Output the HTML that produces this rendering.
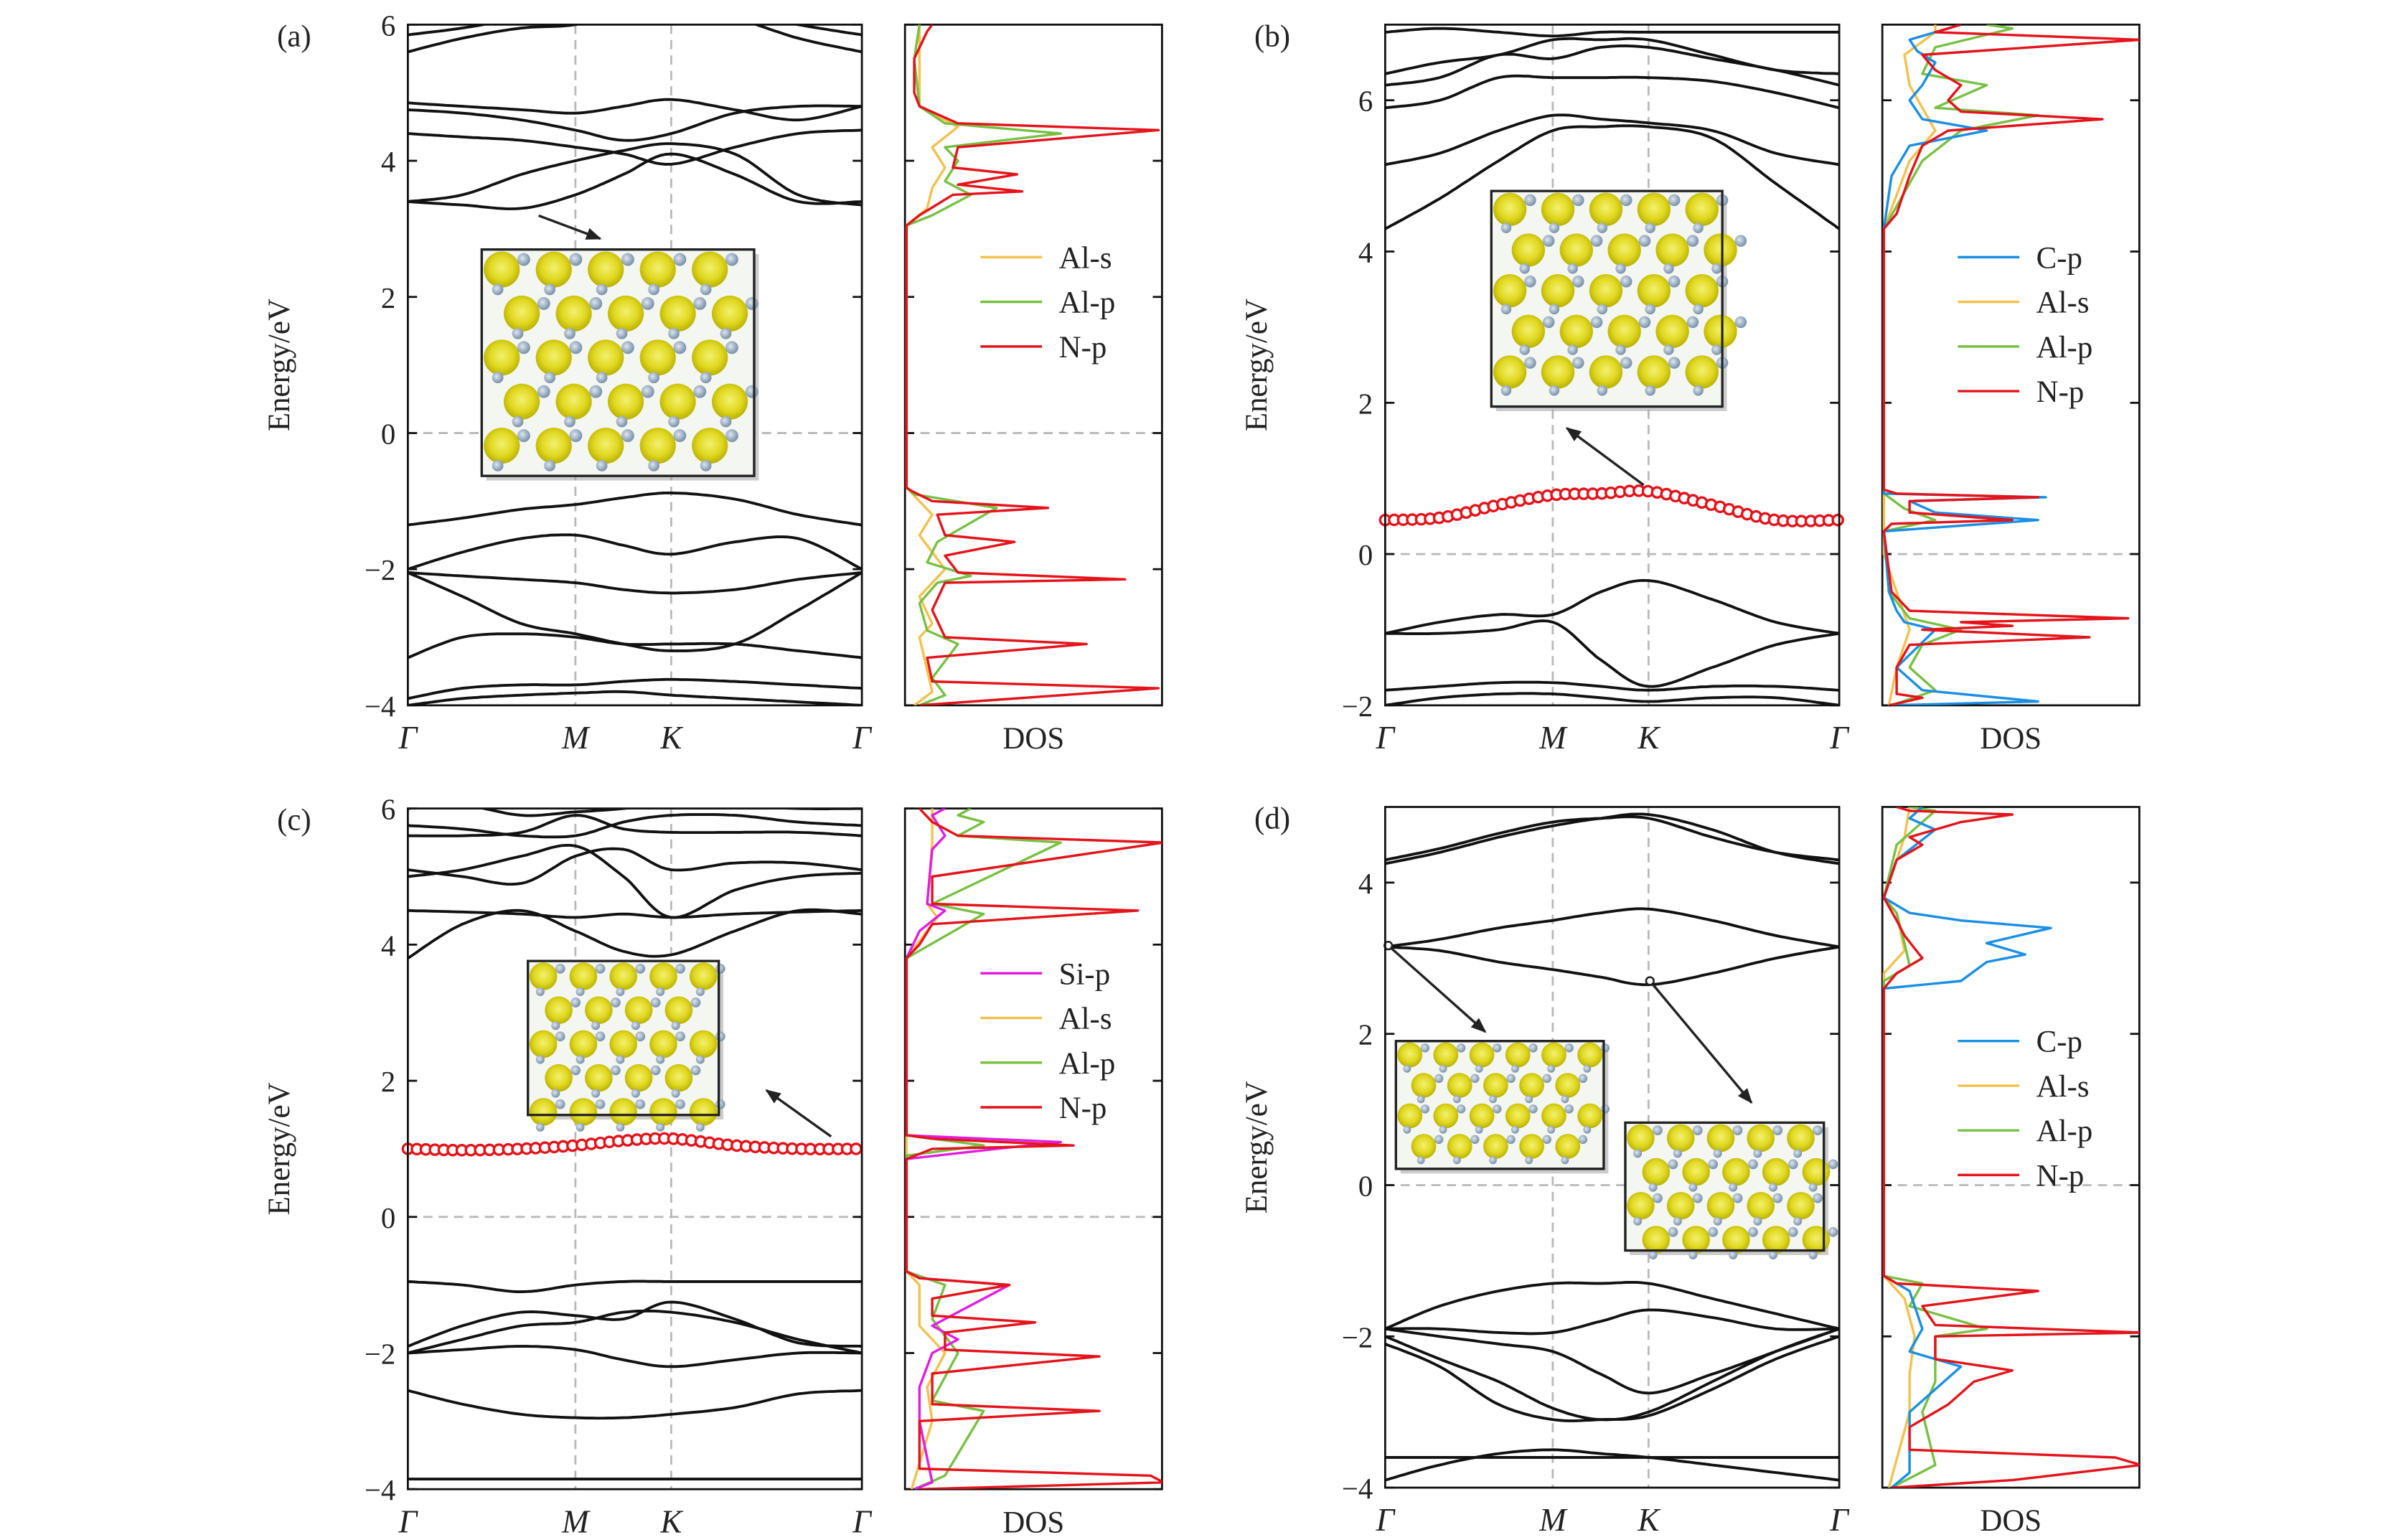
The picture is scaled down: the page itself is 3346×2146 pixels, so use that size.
<!DOCTYPE html>
<html><head><meta charset="utf-8"><style>
html,body{margin:0;padding:0;background:#fff}
svg{display:block}
text{font-family:"Liberation Serif",serif;fill:#222}
</style></head><body>
<svg id="fig" xmlns="http://www.w3.org/2000/svg" width="3346" height="2146" viewBox="0 0 1560 1000" preserveAspectRatio="none" font-family="Liberation Serif, serif">
<defs>
<marker id="ah" markerWidth="10" markerHeight="8" refX="9" refY="4" orient="auto" markerUnits="userSpaceOnUse"><path d="M0,0 L10,4 L0,8 Z" fill="#222"/></marker>
<radialGradient id="yb" cx="50%" cy="45%" r="55%"><stop offset="0" stop-color="#f4f070"/><stop offset="0.6" stop-color="#e0d820"/><stop offset="1" stop-color="#b8b000"/></radialGradient>
<radialGradient id="at" cx="40%" cy="40%" r="60%"><stop offset="0" stop-color="#dde6f0"/><stop offset="1" stop-color="#7890a8"/></radialGradient>
</defs>
</svg>
<script>
// ---------- data ----------
const kPos = [0,0.12,0.25,0.369,0.475,0.58,0.72,0.86,1];
const kLabels = ["Γ","M","K","Γ"];
const kLabelPos = [0,0.369,0.58,1];

const bandsA = [
 [-1.35,-1.25,-1.12,-1.05,-0.95,-0.88,-0.97,-1.2,-1.35],
 [-2.0,-1.75,-1.55,-1.5,-1.65,-1.78,-1.6,-1.55,-2.0],
 [-2.05,-2.1,-2.15,-2.2,-2.3,-2.35,-2.3,-2.15,-2.05],
 [-2.05,-2.4,-2.8,-2.95,-3.1,-3.2,-3.1,-2.6,-2.05],
 [-3.3,-3.0,-2.95,-3.0,-3.1,-3.1,-3.1,-3.2,-3.3],
 [-3.9,-3.75,-3.7,-3.7,-3.65,-3.62,-3.65,-3.7,-3.75],
 [-4.0,-3.9,-3.85,-3.82,-3.8,-3.85,-3.9,-3.95,-4.0],
 [3.4,3.35,3.3,3.5,3.8,4.1,3.8,3.4,3.4],
 [3.4,3.5,3.8,4.0,4.15,4.25,4.1,3.5,3.35],
 [4.4,4.35,4.3,4.2,4.1,3.95,4.2,4.4,4.45],
 [4.75,4.7,4.6,4.45,4.3,4.4,4.7,4.8,4.8],
 [4.85,4.8,4.75,4.7,4.8,4.9,4.75,4.6,4.8],
 [5.6,5.8,5.95,6.0,6.2,6.3,6.1,5.8,5.6],
 [5.85,5.95,6.1,6.2,6.3,6.3,6.2,6.0,5.85]];
const defectA = [];

const bandsB = [
 [-1.05,-0.9,-0.8,-0.8,-0.5,-0.35,-0.6,-0.9,-1.05],
 [-1.05,-1.05,-1.0,-0.9,-1.4,-1.75,-1.5,-1.2,-1.05],
 [-1.8,-1.75,-1.7,-1.7,-1.75,-1.8,-1.75,-1.75,-1.8],
 [-2.0,-1.9,-1.85,-1.85,-1.9,-1.95,-1.9,-1.9,-2.0],
 [4.3,4.7,5.2,5.6,5.65,5.65,5.5,4.9,4.3],
 [5.15,5.3,5.6,5.8,5.75,5.7,5.6,5.3,5.15],
 [5.9,6.0,6.3,6.3,6.3,6.3,6.25,6.1,5.9],
 [6.2,6.3,6.6,6.55,6.7,6.7,6.55,6.4,6.2],
 [6.35,6.5,6.6,6.8,6.8,6.8,6.6,6.4,6.35],
 [6.9,6.95,6.9,6.85,6.9,6.9,6.9,6.9,6.9]];
const defectB = [0.45,0.48,0.65,0.78,0.8,0.83,0.65,0.45,0.45];

const bandsC = [
 [-0.95,-1.0,-1.1,-1.0,-0.95,-0.95,-0.95,-0.95,-0.95],
 [-1.9,-1.6,-1.4,-1.45,-1.5,-1.25,-1.5,-1.85,-1.9],
 [-2.0,-1.8,-1.6,-1.55,-1.4,-1.4,-1.55,-1.8,-2.0],
 [-2.0,-1.95,-1.9,-1.95,-2.1,-2.2,-2.1,-2.0,-2.0],
 [-2.55,-2.75,-2.9,-2.95,-2.95,-2.9,-2.8,-2.6,-2.55],
 [-3.85,-3.85,-3.85,-3.85,-3.85,-3.85,-3.85,-3.85,-3.85],
 [3.8,4.3,4.5,4.2,3.9,3.85,4.2,4.5,4.45],
 [4.5,4.48,4.45,4.4,4.45,4.4,4.45,4.48,4.5],
 [5.0,5.1,5.3,5.45,5.0,4.4,4.8,5.0,5.05],
 [5.1,5.0,4.9,5.3,5.4,5.1,5.2,5.2,5.1],
 [5.6,5.6,5.65,5.9,5.7,5.65,5.65,5.65,5.6],
 [5.75,5.7,5.6,5.6,5.8,5.9,5.9,5.8,5.75],
 [6.0,6.05,5.9,5.95,6.0,6.1,6.05,6.0,6.0]];
const defectC = [1.0,0.98,1.0,1.05,1.12,1.15,1.05,1.0,1.0];

const bandsD = [
 [-1.9,-1.6,-1.4,-1.3,-1.3,-1.3,-1.5,-1.7,-1.9],
 [-1.9,-1.9,-1.95,-1.95,-1.8,-1.65,-1.75,-1.9,-1.9],
 [-1.9,-2.0,-2.1,-2.2,-2.5,-2.75,-2.5,-2.2,-1.9],
 [-2.0,-2.3,-2.6,-2.95,-3.1,-3.0,-2.6,-2.2,-1.9],
 [-2.1,-2.4,-2.9,-3.1,-3.1,-3.05,-2.7,-2.3,-2.0],
 [-3.6,-3.6,-3.6,-3.6,-3.6,-3.6,-3.6,-3.6,-3.6],
 [-3.9,-3.7,-3.55,-3.5,-3.55,-3.6,-3.7,-3.8,-3.9],
 [3.15,3.1,2.95,2.85,2.75,2.65,2.8,3.0,3.15],
 [3.15,3.25,3.4,3.5,3.6,3.65,3.5,3.3,3.15],
 [4.25,4.4,4.6,4.75,4.85,4.9,4.7,4.4,4.25],
 [4.3,4.45,4.65,4.8,4.85,4.85,4.6,4.4,4.3]];
const defectD = [];

const dosA_Als = [[-4,0.3],[-3.8,1],[-3,0.5],[-2.8,1],[-2.4,0.5],[-2,1.5],[-1.5,0.5],[-1.2,1],[-0.8,0],[3.05,0],[3.3,0.8],[3.6,1],[3.9,1.5],[4.2,1],[4.5,2],[4.8,0.5],[6,0.5]];
const dosA_Alp = [[-4,0.5],[-3.85,1.5],[-3.6,1],[-3.1,2],[-2.9,0.8],[-2.5,0.5],[-2.2,1.2],[-2.1,2.5],[-1.9,0.8],[-1.6,1.2],[-1.1,3.5],[-0.9,0.3],[-0.8,0],[3.05,0],[3.2,1],[3.5,2.5],[3.7,1.5],[4.0,2],[4.2,1.5],[4.4,6],[4.55,1.5],[4.8,0.5],[5.5,0.3],[6,0.5]];
const dosA_Np = [[-4,0.5],[-3.75,9.8],[-3.65,1],[-3.3,0.8],[-3.1,7],[-3.0,1.5],[-2.6,1],[-2.2,1.5],[-2.15,8.5],[-2.05,2],[-1.8,1.5],[-1.6,4.2],[-1.5,1.5],[-1.2,1.2],[-1.1,5.5],[-1.0,1],[-0.85,0.2],[-0.8,0],[3.05,0],[3.2,0.5],[3.5,1.8],[3.55,4.5],[3.65,2],[3.8,4.3],[3.9,1.8],[4.2,2],[4.45,9.8],[4.55,2],[4.8,0.5],[5.0,0.3],[5.5,0.3],[5.9,0.8],[6,1]];

const dosB_Als = [[-2,0.2],[-1.5,0.5],[-1,1],[0,0],[4.3,0],[5.2,1],[5.6,2],[5.9,1.5],[6.2,1],[6.6,0.8],[6.9,2],[7,2]];
const dosB_Alp = [[-2,0.3],[-1.8,2],[-1.5,1],[-1.2,1.5],[-1.0,3],[-0.85,1],[-0.5,0.2],[0.3,0],[0.45,2],[0.6,0.8],[0.8,0],[4.3,0],[5.2,1.5],[5.6,3],[5.8,6],[5.9,2],[6.2,4],[6.35,1.5],[6.7,2],[6.95,5],[7,4]];
const dosB_Cp = [[-2,0.3],[-1.95,6],[-1.8,1.5],[-1.5,0.5],[-1.0,2],[-0.9,0.8],[-0.75,0.5],[-0.5,0.2],[0.3,0],[0.45,6],[0.55,2],[0.7,1],[0.75,6.3],[0.8,0],[4.3,0],[5.0,0.3],[5.4,1],[5.6,4],[5.75,1.5],[6.0,1],[6.2,1.5],[6.5,2],[6.65,1.3],[6.8,1],[7,3]];
const dosB_Np = [[-2,0.2],[-1.9,1.5],[-1.85,0.5],[-1.5,0.5],[-1.2,1],[-1.1,8],[-1.0,1.5],[-0.95,5],[-0.9,3],[-0.85,9.5],[-0.75,1],[-0.5,0.3],[0.3,0],[0.4,0.3],[0.45,5],[0.55,1],[0.7,1],[0.75,6],[0.8,0.5],[0.85,0],[4.3,0],[4.5,0.5],[5.0,1],[5.4,1.5],[5.6,2.5],[5.75,8.5],[5.85,3],[6.0,2.5],[6.2,3],[6.4,2],[6.6,1.5],[6.8,10],[6.9,2],[7,3]];

const dosC_Als = [[-4,0.2],[-3,1],[-2.5,0.8],[-2,1.5],[-1.6,0.5],[-1,0.5],[-0.8,0],[3.8,0],[4.4,1.2],[4.6,0.8],[5.5,1],[6,1]];
const dosC_Alp = [[-4,0.3],[-3.8,1.5],[-2.85,3],[-2.7,1],[-2.0,2],[-1.5,1],[-1,1.5],[-0.8,0],[0.9,0],[1.05,3],[1.2,0],[3.8,0],[4.45,3],[4.6,1],[5.5,6],[5.6,2],[5.8,3],[5.9,2],[6,2.5]];
const dosC_Sip = [[-4,0.3],[-3.9,1],[-3,0.5],[-2.5,0.5],[-2,1],[-1.8,2],[-1.6,1],[-1.0,4],[-0.9,0.5],[-0.8,0],[0.85,0],[1.0,3.5],[1.1,6],[1.2,0],[3.8,0],[4.2,0.5],[4.5,1.5],[4.6,0.8],[5.4,1],[5.6,1.5],[5.9,1],[6,1.5]];
const dosC_Np = [[-4,0.5],[-3.9,10],[-3.8,9.5],[-3.7,0.5],[-3.0,0.5],[-2.85,7.5],[-2.75,1],[-2.3,1],[-2.05,7.5],[-1.95,1.5],[-1.7,1.5],[-1.55,5],[-1.45,1],[-1.2,1],[-1.0,4],[-0.9,0.5],[-0.8,0],[0.85,0],[1.0,1],[1.05,6.5],[1.15,1],[1.2,0],[3.8,0],[4.0,0.5],[4.3,1],[4.5,9],[4.6,1],[5.0,1],[5.5,10],[5.6,2],[5.8,1],[6,0.5]];

const dosD_Als = [[-4,0.2],[-3,1],[-2.5,1],[-2,1.2],[-1.5,0.8],[-1.2,0],[2.8,0],[3.1,0.8],[3.6,0.5],[3.8,0],[4.6,0.8],[5,1]];
const dosD_Alp = [[-4,0.3],[-3.7,2],[-3,1.5],[-2.6,2],[-2,2],[-1.9,4],[-1.6,1],[-1.3,1.5],[-1.2,0],[2.7,0],[2.9,1],[3.2,0.8],[3.6,0.5],[3.8,0],[4.5,0.5],[4.8,1.5],[4.95,2],[5,1]];
const dosD_Cp = [[-4,0.3],[-3.8,1],[-3,1],[-2.4,3],[-2.2,1],[-1.9,1.5],[-1.4,1],[-1.2,0],[2.6,0],[2.7,3],[2.95,4],[3.05,5.5],[3.2,4],[3.4,6.5],[3.5,3],[3.6,1],[3.8,0],[4.3,0.5],[4.7,2],[4.85,1],[5,1.5]];
const dosD_Np = [[-4,0.3],[-3.9,5],[-3.7,10],[-3.6,9],[-3.5,1],[-3.2,1],[-2.9,2.5],[-2.6,3.5],[-2.45,5],[-2.3,2],[-2.0,2],[-1.95,10],[-1.85,2],[-1.6,1.5],[-1.4,6],[-1.3,0.5],[-1.2,0],[2.6,0],[2.8,0.5],[3.0,1.5],[3.3,0.8],[3.5,0.5],[3.8,0],[4.3,0.5],[4.5,1.5],[4.6,1],[4.8,3],[4.9,5],[4.95,1],[5,0.5]];

const yTicksA = [-4,-2,0,2,4,6];
const yTicksB = [-2,0,2,4,6];
const yTicksC = [-4,-2,0,2,4,6];
const yTicksD = [-4,-2,0,2,4];

const COL = {"Al-s":"#f2c14e","Al-p":"#78c043","N-p":"#e3141b","C-p":"#1a8fe3","Si-p":"#e01ee0"};

const svg = document.getElementById('fig');
const NS = 'http://www.w3.org/2000/svg';
function mk(tag, attrs, parent){
  const e = document.createElementNS(NS, tag);
  for (const k in attrs) e.setAttribute(k, attrs[k]);
  (parent||svg).appendChild(e);
  return e;
}
function cr(pts, perUnit){
  const out=[];
  for(let i=0;i<pts.length-1;i++){
    const p0=pts[Math.max(0,i-1)],p1=pts[i],p2=pts[i+1],p3=pts[Math.min(pts.length-1,i+2)];
    const d=Math.hypot(p2[0]-p1[0],p2[1]-p1[1]);
    const n=Math.max(2,Math.round(d*perUnit));
    for(let j=0;j<n;j++){
      const t=j/n,t2=t*t,t3=t2*t;
      const f=(a,b,c,e)=>0.5*((2*b)+(-a+c)*t+(2*a-5*b+4*c-e)*t2+(-a+3*b-3*c+e)*t3);
      out.push([f(p0[0],p1[0],p2[0],p3[0]),f(p0[1],p1[1],p2[1],p3[1])]);
    }
  }
  out.push(pts[pts.length-1]);
  return out;
}
let clipId=0;

function panel(cfg){
  const {letter,bx,by,bw,bh,eMax,eMin,dx,dw,bands,defect,yTicks,dos,insets,arrows}=cfg;
  const g = mk('g',{});
  
  
  const yS = e => by + (eMax-e)/(eMax-eMin)*bh;
  const xS = k => bx + k*bw;
  const cid='c'+(clipId++), cid2='c'+(clipId++);
  const cp=mk('clipPath',{id:cid},g); mk('rect',{x:bx,y:by,width:bw,height:bh},cp);
  const cp2=mk('clipPath',{id:cid2},g); mk('rect',{x:dx,y:by,width:dw,height:bh},cp2);

  const lab=mk('text',{x:bx-85,y:by+14,'font-size':20},g); lab.textContent='('+letter+')';
  
  

  const guides=mk('g',{stroke:'#b8b8b8','stroke-width':1.3,'stroke-dasharray':'6,4'},g);
  
  
  [kLabelPos[1],kLabelPos[2]].forEach(k=>mk('line',{x1:xS(k),x2:xS(k),y1:by,y2:by+bh},guides));
  mk('line',{x1:bx,x2:bx+bw,y1:yS(0),y2:yS(0)},guides);
  mk('line',{x1:dx,x2:dx+dw,y1:yS(0),y2:yS(0)},guides);

  const bg=mk('g',{'clip-path':'url(#'+cid+')',fill:'none',stroke:'#111','stroke-width':1.8},g);
  
  
  bands.forEach((b,i)=>{
    const pts=cr(b.map((e,j)=>[xS(kPos[j]),yS(e)]),0.3);
    const p=mk('path',{d:'M'+pts.map(q=>q[0].toFixed(1)+','+q[1].toFixed(1)).join('L')},bg);
    
    
  });
  if(defect.length){
    const dg=mk('g',{fill:'#fff',stroke:'#e3141b','stroke-width':1.6},g);
    
    
    const pts=cr(defect.map((e,j)=>[xS(kPos[j]),yS(e)]),3);
    let acc=0,last=null;const step=5.8;
    pts.forEach(q=>{
      if(!last){mk('circle',{cx:q[0],cy:q[1],r:3.3},dg);last=q;return;}
      acc+=Math.hypot(q[0]-last[0],q[1]-last[1]);last=q;
      if(acc>=step){acc=0;mk('circle',{cx:q[0],cy:q[1],r:3.3},dg);}
    });
  }

  insets.forEach((r,ii)=>{
    const ig=mk('g',{},g);
    
    
    mk('rect',{x:r[0]+3,y:r[1]+3,width:r[2],height:r[3],fill:'#999',opacity:0.5},ig);
    mk('rect',{x:r[0],y:r[1],width:r[2],height:r[3],fill:'#f4f6f2',stroke:'#222','stroke-width':1.5},ig);
    const s=r[4];
    for(let yy=r[1]+s*0.5;yy<r[1]+r[3];yy+=s*1.1){
      for(let xx=r[0]+s*0.5+((Math.round((yy-r[1])/(s*1.1))%2)*s*0.5);xx<r[0]+r[2];xx+=s*1.3){
        mk('circle',{cx:xx,cy:yy,r:s*0.45,fill:'url(#yb)'},ig);
        mk('circle',{cx:xx+s*0.55,cy:yy-s*0.25,r:s*0.16,fill:'url(#at)'},ig);
        mk('circle',{cx:xx-s*0.1,cy:yy+s*0.5,r:s*0.14,fill:'url(#at)'},ig);
      }
    }
    mk('rect',{x:r[0],y:r[1],width:r[2],height:r[3],fill:'none',stroke:'#222','stroke-width':1.5},ig);
  });
  arrows.forEach((a,ai)=>{
    const l=mk('line',{x1:a[0],y1:a[1],x2:a[2],y2:a[3],stroke:'#222','stroke-width':1.6,'marker-end':'url(#ah)'},g);
    
    
    if(a[4]) mk('circle',{cx:a[0],cy:a[1],r:2.5,fill:'#fff',stroke:'#222','stroke-width':1.2},g);
  });

  const axg=mk('g',{stroke:'#111','stroke-width':1.3,fill:'none'},g);
  
  
  mk('rect',{x:bx,y:by,width:bw,height:bh},axg);
  mk('rect',{x:dx,y:by,width:dw,height:bh},axg);
  yTicks.forEach(t=>{
    const y=yS(t);
    mk('line',{x1:bx,x2:bx+6,y1:y,y2:y},axg);
    mk('line',{x1:bx+bw-6,x2:bx+bw,y1:y,y2:y},axg);
    mk('line',{x1:dx,x2:dx+6,y1:y,y2:y},axg);
    mk('line',{x1:dx+dw-6,x2:dx+dw,y1:y,y2:y},axg);
    const tx=mk('text',{x:bx-8,y:y+7,'font-size':19,'text-anchor':'end'},g);
    tx.textContent=(t<0?'\u2212'+(-t):String(t));
    
    
  });
  kLabelPos.forEach((k,i)=>{
    const tx=mk('text',{x:xS(k),y:by+bh+28,'font-size':21,'font-style':'italic','text-anchor':'middle'},g);
    tx.textContent=kLabels[i];
    
    
  });
  const yl=mk('text',{transform:'translate('+(bx-77)+','+(by+bh/2)+') rotate(-90)','font-size':20,'text-anchor':'middle'},g);
  yl.textContent='Energy/eV';
  
  
  const dl=mk('text',{x:dx+dw/2,y:by+bh+28,'font-size':20,'text-anchor':'middle'},g);
  dl.textContent='DOS';
  
  

  const dg=mk('g',{'clip-path':'url(#'+cid2+')',fill:'none','stroke-width':1.6},g);
  
  
  dos.forEach(([name,arr])=>{
    const pts=arr.map(p=>[dx+1+p[1]/10*dw,yS(p[0])]);
    const p=mk('path',{d:'M'+pts.map(q=>q[0].toFixed(1)+','+q[1].toFixed(1)).join('L'),stroke:COL[name],'stroke-linejoin':'round'},dg);
    
    
  });
  const lg=mk('g',{},g);
  
  
  cfg.legend.forEach((name,i)=>{
    const y=cfg.legY+i*29;
    mk('line',{x1:dx+49,x2:dx+89,y1:y,y2:y,stroke:COL[name],'stroke-width':1.6},lg);
    const t=mk('text',{x:dx+100,y:y+7,'font-size':20},lg);
    t.textContent=name;
    
    
  });
}

panel({letter:'a',bx:265,by:16,bw:295,bh:442,eMax:6,eMin:-4,dx:588,dw:167,bands:bandsA,defect:defectA,yTicks:yTicksA,
 dos:[['Al-s',dosA_Als],['Al-p',dosA_Alp],['N-p',dosA_Np]],legend:['Al-s','Al-p','N-p'],legY:167,
 insets:[[313,162,177,147,26]],arrows:[[350,140,390,155,false]]});
panel({letter:'b',bx:900,by:16,bw:295,bh:442,eMax:7,eMin:-2,dx:1223,dw:167,bands:bandsB,defect:defectB,yTicks:yTicksB,
 dos:[['Al-s',dosB_Als],['Al-p',dosB_Alp],['C-p',dosB_Cp],['N-p',dosB_Np]],legend:['C-p','Al-s','Al-p','N-p'],legY:167,
 insets:[[969,124,150,140,24]],arrows:[[1068,315,1018,278,false]]});
panel({letter:'c',bx:265,by:525,bw:295,bh:442,eMax:6,eMin:-4,dx:588,dw:167,bands:bandsC,defect:defectC,yTicks:yTicksC,
 dos:[['Al-s',dosC_Als],['Al-p',dosC_Alp],['Si-p',dosC_Sip],['N-p',dosC_Np]],legend:['Si-p','Al-s','Al-p','N-p'],legY:632,
 insets:[[343,624,124,100,20]],arrows:[[540,738,498,708,false]]});
panel({letter:'d',bx:900,by:524,bw:295,bh:442,eMax:5,eMin:-4,dx:1223,dw:167,bands:bandsD,defect:defectD,yTicks:yTicksD,
 dos:[['Al-s',dosD_Als],['Al-p',dosD_Alp],['C-p',dosD_Cp],['N-p',dosD_Np]],legend:['C-p','Al-s','Al-p','N-p'],legY:676,
 insets:[[907,676,135,83,18],[1056,729,129,83,20]],arrows:[[902,614,965,670,true],[1072,637,1138,716,true]]});
</script>
</body></html>
